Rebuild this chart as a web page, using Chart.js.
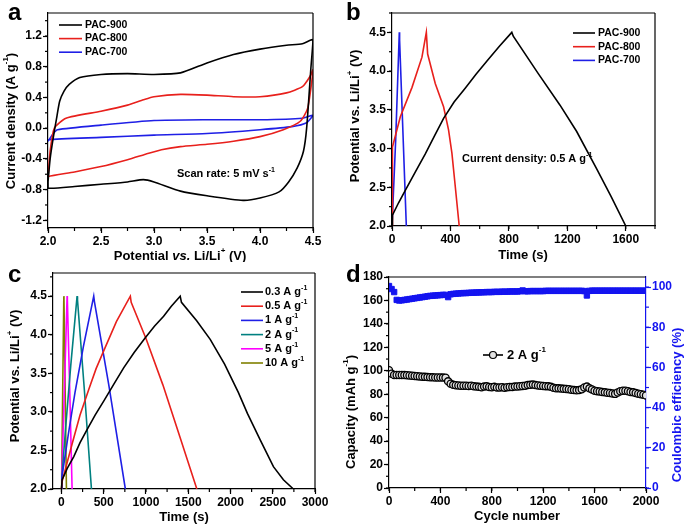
<!DOCTYPE html>
<html>
<head>
<meta charset="utf-8">
<script src="https://cdn.jsdelivr.net/npm/chart.js@4.4.0/dist/chart.umd.min.js"></script>
<style>
    body { margin: 0; background: #fff; width: 685px; height: 527px; position: relative; overflow: hidden; }
    .panel { position: absolute; }
    .tag { position: absolute; font: bold 24px "Liberation Sans", Arial, sans-serif; color: #000; line-height: 1; }
</style>
</head>
<body>
<canvas class="panel" id="cvChart" width="342" height="262" style="left:0;top:0"></canvas>
<canvas class="panel" id="gcdChart" width="343" height="262" style="left:342px;top:0"></canvas>
<canvas class="panel" id="rateChart" width="342" height="265" style="left:0;top:262px"></canvas>
<canvas class="panel" id="cycleChart" width="343" height="265" style="left:342px;top:262px"></canvas>
<div class="tag" style="left:8px;top:0">a</div>
<div class="tag" style="left:346px;top:0">b</div>
<div class="tag" style="left:8px;top:262px">c</div>
<div class="tag" style="left:346px;top:262px">d</div>
<script>
const FONT = '"Liberation Sans", Arial, Helvetica, sans-serif';

// (a) CV loops: potential (V) and current density (A/g)
const cvV900 = [2.0, 2.02, 2.05, 2.08, 2.11, 2.15, 2.2, 2.3, 2.5, 2.75, 3.0, 3.25, 3.5, 3.75, 4.0, 4.25, 4.4, 4.5, 4.48, 4.44, 4.41, 4.35, 4.27, 4.18, 4.0, 3.84, 3.5, 3.25, 3.0, 2.9, 2.75, 2.5, 2.25, 2.0, 2.0];
const cvI900 = [-0.70, -0.40, -0.12, 0.12, 0.35, 0.48, 0.57, 0.66, 0.70, 0.71, 0.70, 0.72, 0.85, 0.96, 1.03, 1.08, 1.10, 1.15, 0.78, 0.0, -0.30, -0.52, -0.70, -0.83, -0.91, -0.94, -0.88, -0.82, -0.70, -0.67, -0.70, -0.73, -0.76, -0.78, -0.70];
const cvV800 = [2.0, 2.02, 2.06, 2.17, 2.5, 2.75, 2.9, 3.0, 3.25, 3.5, 3.75, 4.0, 4.25, 4.4, 4.47, 4.5, 4.45, 4.38, 4.22, 4.0, 3.75, 3.5, 3.25, 3.07, 2.92, 2.75, 2.5, 2.25, 2.0, 2.0];
const cvI800 = [-0.65, -0.30, 0.0, 0.13, 0.22, 0.30, 0.37, 0.41, 0.44, 0.43, 0.41, 0.41, 0.46, 0.54, 0.67, 0.76, 0.26, 0.09, -0.02, -0.11, -0.17, -0.21, -0.24, -0.28, -0.34, -0.41, -0.50, -0.57, -0.63, -0.65];
const cvV700 = [2.0, 2.05, 2.09, 2.5, 3.0, 3.5, 4.0, 4.4, 4.5, 4.44, 4.3, 4.0, 3.5, 3.0, 2.5, 2.0, 2.0];
const cvI700 = [-0.17, -0.07, -0.02, 0.04, 0.10, 0.11, 0.11, 0.13, 0.17, 0.07, 0.02, -0.02, -0.07, -0.09, -0.12, -0.15, -0.17];
const cvXTicks = [2.0, 2.5, 3.0, 3.5, 4.0, 4.5];
const cvYTicks = [-1.2, -0.8, -0.4, 0.0, 0.4, 0.8, 1.2];

// (b) charge/discharge at 0.5 A/g: time (s) and potential (V)
const gcdT900 = [0, 3, 45, 91, 160, 228, 290, 353, 425, 501, 575, 650, 735, 820, 830, 1000, 1150, 1264, 1400, 1500, 1600];
const gcdV900 = [2.0, 2.14, 2.3, 2.46, 2.7, 2.93, 3.16, 3.39, 3.6, 3.78, 3.96, 4.13, 4.32, 4.5, 4.45, 3.97, 3.56, 3.22, 2.74, 2.38, 2.0];
const gcdT800 = [0, 1, 5, 57, 137, 205, 235, 244, 296, 353, 387, 410, 433, 460];
const gcdV800 = [2.0, 2.9, 3.02, 3.41, 3.79, 4.18, 4.5, 4.22, 3.84, 3.54, 3.24, 2.94, 2.51, 2.0];
const gcdT700 = [0, 25, 50, 52, 75, 98];
const gcdV700 = [2.0, 3.1, 4.5, 4.4, 3.2, 2.0];
const gcdXTicks = [0, 400, 800, 1200, 1600];
const potTicks = [2.0, 2.5, 3.0, 3.5, 4.0, 4.5];

// (c) PAC-900 at several current densities
const rateT03 = [0, 8, 70, 146, 220, 303, 400, 500, 620, 736, 860, 992, 1100, 1209, 1300, 1405, 1420, 1600, 1760, 1930, 2094, 2200, 2350, 2508, 2626, 2744];
const rateV03 = [2.0, 2.12, 2.27, 2.42, 2.6, 2.77, 2.96, 3.14, 3.36, 3.57, 3.77, 3.96, 4.11, 4.24, 4.37, 4.5, 4.42, 4.18, 3.94, 3.62, 3.25, 2.98, 2.64, 2.29, 2.12, 2.0];
const rateT05 = [0, 8, 130, 220, 323, 410, 500, 650, 815, 825, 1000, 1200, 1400, 1602];
const rateV05 = [2.0, 2.1, 2.6, 2.96, 3.29, 3.56, 3.79, 4.17, 4.5, 4.42, 3.95, 3.35, 2.68, 2.0];
const rateT1 = [0, 5, 80, 160, 260, 382, 390, 560, 756];
const rateV1 = [2.0, 2.15, 2.7, 3.25, 3.85, 4.5, 4.43, 3.35, 2.0];
const rateT2 = [0, 5, 50, 110, 185, 190, 270, 355];
const rateV2 = [2.0, 2.15, 2.8, 3.6, 4.5, 4.45, 3.3, 2.0];
const rateT5 = [0, 5, 35, 67, 70, 100, 126];
const rateV5 = [2.0, 2.2, 3.3, 4.5, 4.45, 3.2, 2.0];
const rateT10 = [0, 3, 15, 28, 30, 45, 59];
const rateV10 = [2.0, 2.2, 3.3, 4.5, 4.45, 3.2, 2.0];
const rateXTicks = [0, 500, 1000, 1500, 2000, 2500, 3000];

// (d) cycling at 2 A/g, one reading every 20 cycles
const cycleStep = 20;
const capacity = [
    100.5, 97.5, 96.5, 96.5, 96.5, 96.5, 96.3, 96.2, 96.0, 95.8,
    95.6, 95.4, 95.2, 95.0, 94.8, 94.6, 94.5, 94.4, 94.3, 94.3,
    94.3, 94.2, 94.0, 91.0, 89.0, 88.0, 87.6, 87.4, 87.3, 87.2,
    87.3, 87.0, 87.2, 86.8, 86.5, 86.3, 86.0, 86.5, 86.7, 86.2,
    86.0, 86.3, 85.8, 85.7, 86.0, 85.6, 86.0, 86.2, 86.1, 86.5,
    86.6, 86.8, 87.0, 87.3, 87.8, 88.0, 88.2, 87.8, 87.5, 87.3,
    87.0, 86.9, 86.7, 86.3, 85.5, 85.0, 85.0, 84.8, 84.6, 84.5,
    84.2, 83.8, 83.5, 83.3, 83.5, 84.2, 85.8, 86.5, 85.0, 84.0,
    83.0, 82.6, 82.3, 82.0, 81.6, 81.3, 81.0, 80.6, 80.3, 81.5,
    82.5, 83.0, 83.0, 82.6, 82.0, 81.6, 81.0, 80.5, 80.0, 79.5,
    79.0
];
const efficiency = [
    100.5, 99.0, 97.5, 93.6, 93.3, 93.4, 93.6, 93.8, 94.0, 94.2,
    94.4, 94.6, 94.8, 95.0, 95.2, 95.4, 95.6, 95.7, 95.8, 95.9,
    96.0, 96.1, 96.1, 95.0, 96.4, 96.6, 96.7, 96.8, 96.9, 97.0,
    97.0, 97.1, 97.2, 97.2, 97.3, 97.3, 97.4, 97.4, 97.5, 97.5,
    97.5, 97.6, 97.6, 97.6, 97.7, 97.7, 97.7, 97.8, 97.8, 97.8,
    97.8, 97.9, 98.3, 97.9, 97.9, 98.0, 98.0, 98.0, 98.0, 98.0,
    98.0, 98.1, 98.1, 98.1, 98.1, 98.1, 98.1, 98.1, 98.1, 98.1,
    98.1, 98.1, 98.1, 98.1, 98.1, 98.1, 98.0, 95.8, 98.1, 98.2,
    98.2, 98.2, 98.2, 98.2, 98.2, 98.2, 98.2, 98.2, 98.2, 98.2,
    98.2, 98.2, 98.2, 98.2, 98.2, 98.2, 98.2, 98.2, 98.2, 98.2,
    98.2
];
const cycleXTicks = [0, 400, 800, 1200, 1600, 2000];
const capTicks = [0, 20, 40, 60, 80, 100, 120, 140, 160, 180];
const effTicks = [0, 20, 40, 60, 80, 100];

const RED = '#e8201c';
const BLUE = '#1f1fe6';
const EFF_BLUE = '#1414f0';

function pts(xs, ys) {
    return xs.map((x, i) => ({ x: x, y: ys[i] }));
}

// "^{..}" = superscript, "*..*" = italic
function richParts(str) {
    const parts = [];
    const re = /\^\{([^}]*)\}|\*([^*]+)\*|([^*^]+)/g;
    let m;
    while ((m = re.exec(str))) {
        if (m[1] !== undefined) parts.push({ t: m[1], sup: true });
        else if (m[2] !== undefined) parts.push({ t: m[2], it: true });
        else parts.push({ t: m[3] });
    }
    return parts;
}

function drawRich(ctx, str, x, y, size, align, color) {
    const parts = richParts(str);
    const fontFor = p => (p.it ? 'italic ' : '') + 'bold ' + (p.sup ? Math.round(size * 0.62) : size) + 'px ' + FONT;
    let w = 0;
    parts.forEach(p => { ctx.font = fontFor(p); p.w = ctx.measureText(p.t).width; w += p.w; });
    let cx = align === 'center' ? x - w / 2 : (align === 'right' ? x - w : x);
    ctx.fillStyle = color;
    ctx.textBaseline = 'middle';
    ctx.textAlign = 'left';
    parts.forEach(p => {
        ctx.font = fontFor(p);
        ctx.fillText(p.t, cx, p.sup ? y - size * 0.38 : y);
        cx += p.w;
    });
}

// box edges + minor ticks
const framePlugin = {
    id: 'frame',
    afterDraw(chart, args, o) {
        const ctx = chart.ctx;
        const a = chart.chartArea;
        ctx.save();
        ctx.lineWidth = 1.2;
        ctx.strokeStyle = '#000';
        ctx.beginPath();
        ctx.moveTo(a.left, a.top);
        ctx.lineTo(a.right, a.top);
        ctx.stroke();
        if (!o.noRight) {
            ctx.beginPath();
            ctx.moveTo(a.right, a.top);
            ctx.lineTo(a.right, a.bottom);
            ctx.stroke();
        }
        const minor = o.minor || {};
        Object.keys(minor).forEach(id => {
            const s = chart.scales[id];
            const step = minor[id];
            ctx.strokeStyle = s.options.border.color;
            let v = Math.ceil(s.min / step - 1e-9) * step;
            for (; v <= s.max + 1e-9; v += step) {
                const p = s.getPixelForValue(v);
                ctx.beginPath();
                if (s.position === 'bottom') { ctx.moveTo(p, a.bottom); ctx.lineTo(p, a.bottom + 3); }
                else if (s.position === 'left') { ctx.moveTo(a.left - 3, p); ctx.lineTo(a.left, p); }
                else { ctx.moveTo(a.right, p); ctx.lineTo(a.right + 3, p); }
                ctx.stroke();
            }
        });
        ctx.restore();
    }
};

// axis titles and notes
const textPlugin = {
    id: 'texts',
    afterDraw(chart, args, o) {
        const ctx = chart.ctx;
        (o.items || []).forEach(it => {
            ctx.save();
            if (it.rot) {
                ctx.translate(it.x, it.y);
                ctx.rotate(-Math.PI / 2);
                drawRich(ctx, it.t, 0, 0, it.size || 13, 'center', it.color || '#000');
            } else {
                drawRich(ctx, it.t, it.x, it.y, it.size || 13, it.align || 'center', it.color || '#000');
            }
            ctx.restore();
        });
    }
};

// legend drawn inside the plot
const legendPlugin = {
    id: 'inLegend',
    afterDraw(chart, args, o) {
        if (o.x === undefined) return;
        const ctx = chart.ctx;
        let y = o.y;
        chart.data.datasets.forEach(ds => {
            if (ds.legend === false) return;
            ctx.save();
            ctx.strokeStyle = ds.borderColor;
            ctx.lineWidth = 1.6;
            ctx.beginPath();
            ctx.moveTo(o.x, y);
            ctx.lineTo(o.x + o.len, y);
            ctx.stroke();
            if (o.marker) {
                ctx.lineWidth = 1.2;
                ctx.fillStyle = ds.backgroundColor;
                ctx.beginPath();
                ctx.arc(o.x + o.len / 2, y, 3.5, 0, Math.PI * 2);
                ctx.fill();
                ctx.stroke();
            }
            drawRich(ctx, ds.label, o.x + o.len + o.gap, y, o.size, 'left', '#000');
            ctx.restore();
            y += o.dy || 0;
        });
    }
};

Chart.register(framePlugin, textPlugin, legendPlugin);

function makeAxis(pos, min, max, ticks, dec, fit, color) {
    color = color || '#000';
    return {
        type: 'linear',
        position: pos,
        min: min,
        max: max,
        afterBuildTicks: s => { s.ticks = ticks.map(v => ({ value: v })); },
        afterFit: s => { if (pos === 'bottom') s.height = fit; else s.width = fit; },
        ticks: {
            color: color,
            font: { family: FONT, size: 12, weight: 'bold' },
            padding: 1,
            autoSkip: false,
            maxRotation: 0,
            callback: v => v.toFixed(dec)
        },
        grid: { drawOnChartArea: false, tickLength: 5, tickWidth: 1.2, color: color },
        border: { color: color, width: 1.2 }
    };
}

function lineSet(label, xs, ys, color, tension) {
    return {
        label: label,
        data: pts(xs, ys),
        showLine: true,
        borderColor: color,
        backgroundColor: color,
        borderWidth: 1.6,
        pointRadius: 0,
        tension: tension || 0
    };
}

function baseOptions(padding, scales, plugins) {
    return {
        responsive: false,
        animation: false,
        layout: { padding: padding },
        scales: scales,
        plugins: Object.assign({ legend: { display: false }, tooltip: { enabled: false } }, plugins)
    };
}

function createCvChart() {
    new Chart(document.getElementById('cvChart').getContext('2d'), {
        type: 'scatter',
        data: {
            datasets: [
                lineSet('PAC-900', cvV900, cvI900, '#000', 0.2),
                lineSet('PAC-800', cvV800, cvI800, RED, 0.2),
                lineSet('PAC-700', cvV700, cvI700, BLUE, 0.2)
            ]
        },
        options: baseOptions({ top: 13, right: 29, left: 0, bottom: 0 }, {
            x: makeAxis('bottom', 2.0, 4.5, cvXTicks, 1, 34),
            y: makeAxis('left', -1.3, 1.5, cvYTicks, 1, 48)
        }, {
            frame: { minor: { x: 0.25, y: 0.2 } },
            inLegend: { x: 59, y: 25, dy: 13.6, len: 23, gap: 3, size: 10.5 },
            texts: {
                items: [
                    { t: 'Current density (A g^{-1})', x: 11, y: 121, rot: true },
                    { t: 'Potential *vs.* Li/Li^{+} (V)', x: 180, y: 256 },
                    { t: 'Scan rate: 5 mV s^{-1}', x: 177, y: 174, size: 11, align: 'left' }
                ]
            }
        })
    });
}

function createGcdChart() {
    new Chart(document.getElementById('gcdChart').getContext('2d'), {
        type: 'scatter',
        data: {
            datasets: [
                lineSet('PAC-900', gcdT900, gcdV900, '#000'),
                lineSet('PAC-800', gcdT800, gcdV800, RED),
                lineSet('PAC-700', gcdT700, gcdV700, BLUE)
            ]
        },
        options: baseOptions({ top: 13, right: 30, left: 0, bottom: 0 }, {
            x: makeAxis('bottom', 0, 1800, gcdXTicks, 0, 36),
            y: makeAxis('left', 2.0, 4.75, potTicks, 1, 50)
        }, {
            frame: { minor: { x: 200, y: 0.25 } },
            inLegend: { x: 231, y: 33, dy: 13.7, len: 22, gap: 3, size: 10.5 },
            texts: {
                items: [
                    { t: 'Potential vs. Li/Li^{+} (V)', x: 13, y: 116, rot: true },
                    { t: 'Time (s)', x: 181, y: 255 },
                    { t: 'Current density: 0.5 A g^{-1}', x: 120, y: 159, size: 11, align: 'left' }
                ]
            }
        })
    });
}

function createRateChart() {
    new Chart(document.getElementById('rateChart').getContext('2d'), {
        type: 'scatter',
        data: {
            datasets: [
                lineSet('0.3 A g^{-1}', rateT03, rateV03, '#000'),
                lineSet('0.5 A g^{-1}', rateT05, rateV05, RED),
                lineSet('1 A g^{-1}', rateT1, rateV1, BLUE),
                lineSet('2 A g^{-1}', rateT2, rateV2, '#008080'),
                lineSet('5 A g^{-1}', rateT5, rateV5, '#ff00ff'),
                lineSet('10 A g^{-1}', rateT10, rateV10, '#808000')
            ]
        },
        options: baseOptions({ top: 11, right: 27, left: 0, bottom: 0 }, {
            x: makeAxis('bottom', -100, 3000, rateXTicks, 0, 38),
            y: makeAxis('left', 2.0, 4.8, potTicks, 1, 53)
        }, {
            frame: { minor: { x: 250, y: 0.25 } },
            inLegend: { x: 241, y: 30, dy: 14.2, len: 22, gap: 2, size: 11 },
            texts: {
                items: [
                    { t: 'Potential vs. Li/Li^{+} (V)', x: 15, y: 114, rot: true },
                    { t: 'Time (s)', x: 184, y: 255 }
                ]
            }
        })
    });
}

function createCycleChart() {
    const cycles = capacity.map((v, i) => i * cycleStep);
    new Chart(document.getElementById('cycleChart').getContext('2d'), {
        type: 'scatter',
        data: {
            datasets: [
                {
                    label: '2 A g^{-1}',
                    data: pts(cycles, capacity),
                    yAxisID: 'y',
                    pointStyle: 'circle',
                    pointRadius: 3.6,
                    borderWidth: 1.3,
                    borderColor: '#000',
                    backgroundColor: '#e2e2e2'
                },
                {
                    label: 'Coulombic efficiency',
                    legend: false,
                    data: pts(cycles, efficiency),
                    yAxisID: 'y2',
                    pointStyle: 'rect',
                    pointRadius: 3.8,
                    borderWidth: 1,
                    borderColor: EFF_BLUE,
                    backgroundColor: EFF_BLUE
                }
            ]
        },
        options: baseOptions({ top: 15, right: 0, left: 0, bottom: 0 }, {
            x: makeAxis('bottom', 0, 2000, cycleXTicks, 0, 39),
            y: makeAxis('left', 0, 180, capTicks, 0, 47),
            y2: makeAxis('right', 0, 105, effTicks, 0, 39, EFF_BLUE)
        }, {
            frame: { noRight: true, minor: { x: 200, y: 10, y2: 10 } },
            inLegend: { x: 141, y: 93, len: 20, gap: 4, size: 13, marker: true },
            texts: {
                items: [
                    { t: 'Capacity (mAh g^{-1})', x: 9, y: 150, rot: true },
                    { t: 'Coulombic efficiency (%)', x: 335, y: 143, rot: true, color: EFF_BLUE },
                    { t: 'Cycle number', x: 175, y: 254 }
                ]
            }
        })
    });
}

createCvChart();
createGcdChart();
createRateChart();
createCycleChart();
</script>
</body>
</html>
